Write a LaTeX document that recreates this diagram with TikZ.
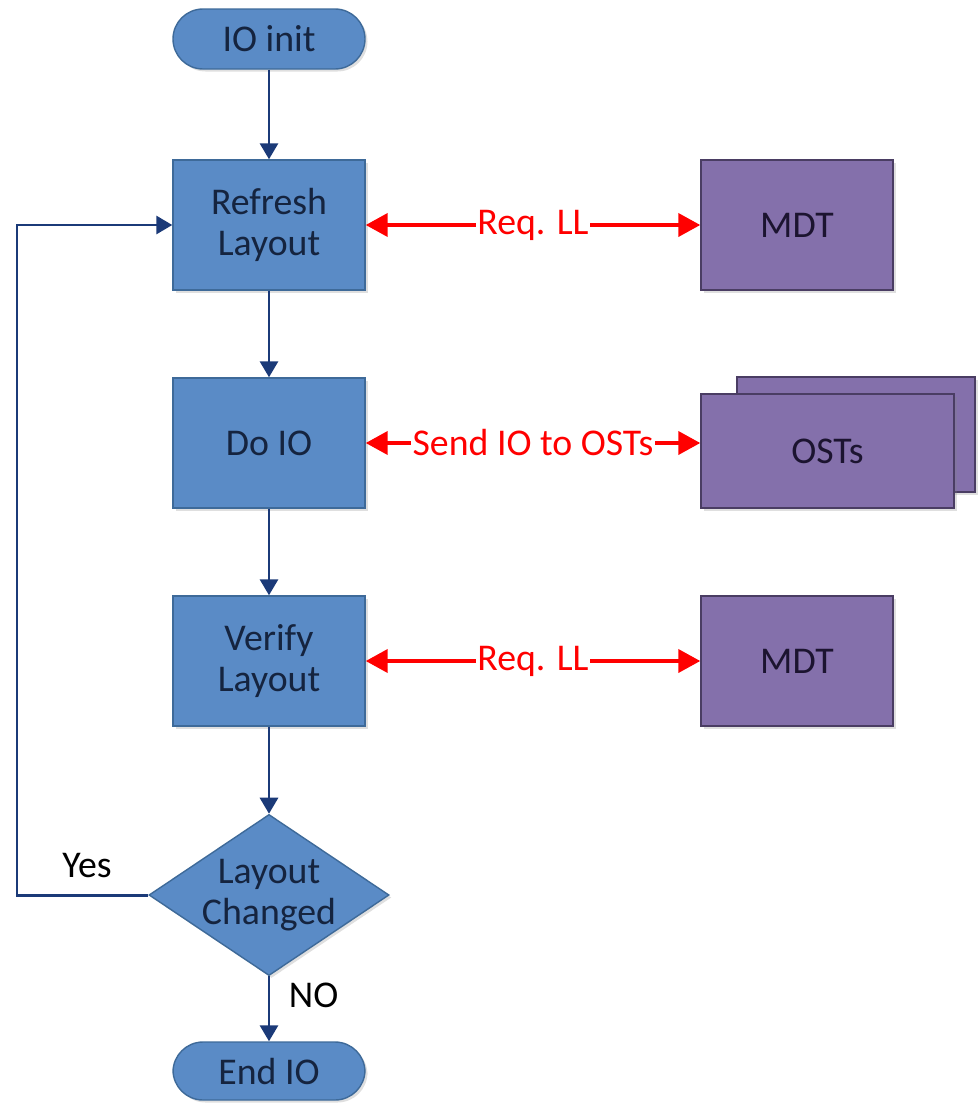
\documentclass[tikz,border=0pt]{standalone}
\usepackage{fontspec}
\setmainfont{Carlito}
\usetikzlibrary{arrows.meta,
  shapes,
  shadows
}

\definecolor{boxblue}{HTML}{5A8BC6}
\definecolor{boxedge}{HTML}{3E6A99}
\definecolor{boxtext}{HTML}{15243F}
\definecolor{srvpurple}{HTML}{8470AB}
\definecolor{srvedge}{HTML}{4A3D63}
\definecolor{srvtext}{HTML}{1C1430}
\definecolor{flownavy}{HTML}{1B3A78}

\begin{document}
\begin{tikzpicture}[
  every node/.style={font=\fontsize{21.5}{23}\selectfont},
  proc/.style={draw=boxedge,line width=0.8,fill=boxblue,text=boxtext,
    minimum width=3.84cm,minimum height=2.6cm,align=center,
    drop shadow={shadow xshift=0.05cm,shadow yshift=-0.05cm,opacity=0.25}},
  term/.style={proc,rounded corners=0.6cm,minimum height=1.2cm},
  srv/.style={draw=srvedge,line width=0.8,fill=srvpurple,text=srvtext,
    minimum width=3.84cm,minimum height=2.6cm,align=center,
    drop shadow={shadow xshift=0.05cm,shadow yshift=-0.05cm,opacity=0.25}},
  flow/.style={-{Triangle[width=0.36cm,length=0.32cm]},draw=flownavy,line width=1.7},
  req/.style={{Triangle[width=0.46cm,length=0.44cm]}-{Triangle[width=0.46cm,length=0.44cm]},
    draw=red,line width=2.2},
  reqlabel/.style={fill=white,text=red,inner sep=1pt}
]
  \useasboundingbox (0, 0) rectangle (19.56, -22.14);

  % main column
  \node[term] (init) at (5.38, -0.78) {IO init};
  \node[proc] (refresh) at (5.38, -4.5) {Refresh\\Layout};
  \node[proc] (doio) at (5.38, -8.86) {Do IO};
  \node[proc] (verify) at (5.38, -13.22) {Verify\\Layout};
  \node[diamond,aspect=1.49,draw=boxedge,line width=0.8,fill=boxblue,text=boxtext,
    minimum width=4.76cm,minimum height=3.2cm,inner sep=0,align=center,
    drop shadow={shadow xshift=0.05cm,shadow yshift=-0.05cm,opacity=0.25}]
    (changed) at (5.38, -17.9) {Layout\\Changed};
  \node[term,minimum height=1.16cm] (endio) at (5.38, -21.42) {End IO};

  % servers
  \node[srv] (mdta) at (15.94, -4.5) {MDT};
  \node[srv,minimum width=4.76cm,minimum height=2.3cm] (ostsback) at (17.12, -8.69) {};
  \node[srv,minimum width=5.06cm,minimum height=2.28cm] (osts) at (16.55, -9.02) {OSTs};
  \node[srv] (mdtb) at (15.94, -13.22) {MDT};

  % flow
  \draw[flow] (init) -- (refresh);
  \draw[flow] (refresh) -- (doio);
  \draw[flow] (doio) -- (verify);
  \draw[flow] (verify) -- (changed);
  \draw[flow] (changed) -- node[right=0.25cm,pos=0.3] {NO} (endio);

  % loop back
  \coordinate (loopb) at (0.34, -17.9);
  \coordinate (loopt) at (0.34, -4.5);
  \draw[flow] (changed.west) -- (loopb) -- (loopt) -- (refresh.west);
  \node (yes) at (1.74, -17.32) {Yes};

  % requests
  \draw[req] (refresh.east) -- node[reqlabel] {Req. LL} (mdta.west);
  \draw[req] (doio.east) -- node[reqlabel] {Send IO to OSTs} (doio.east -| osts.west);
  \draw[req] (verify.east) -- node[reqlabel] {Req. LL} (mdtb.west);
\end{tikzpicture}
\end{document}
